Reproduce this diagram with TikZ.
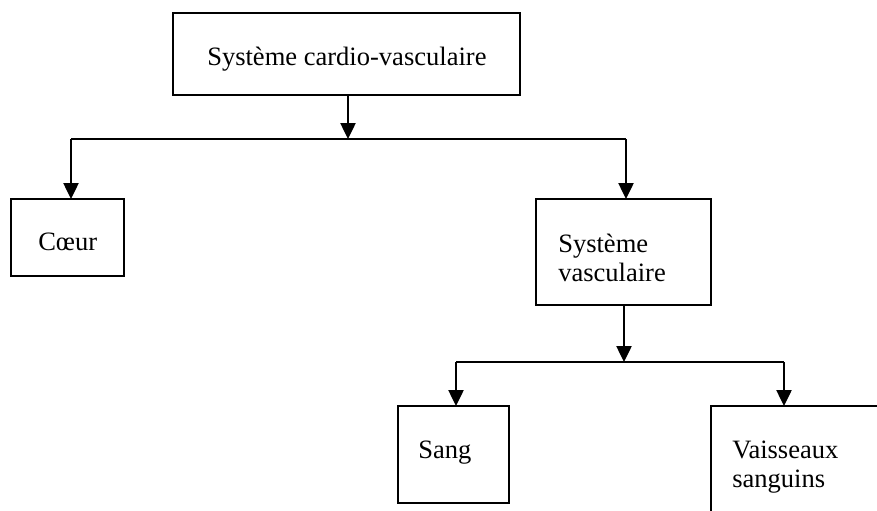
\documentclass[tikz,border=0pt]{standalone}
\usepackage{fontspec}
\setmainfont{Liberation Serif}
\usetikzlibrary{arrows.meta}

\begin{document}
\begin{tikzpicture}[x=0.75pt, y=-0.75pt,
            block/.style={rectangle, draw, line width=1pt, inner sep=0pt, outer sep=0pt, anchor=north west},
            label/.style={inner sep=0pt, anchor=base west, align=left, font=\fontsize{19.9pt}{21.75pt}\selectfont},
            arrow/.style={-{Triangle[length=12pt, width=11.5pt]}, line width=1pt},
            branch/.style={line width=1pt}]

        \useasboundingbox (0,0) rectangle (877,510);
        \clip (0,0) rectangle (877,510);

        % boxes
        \node[block, minimum width=260.25pt, minimum height=61.5pt] (sys) at (173,13) {};
        \node[block, minimum width=84.75pt, minimum height=57.75pt] (coeur) at (11,199) {};
        \node[block, minimum width=131.25pt, minimum height=79.5pt] (vasc) at (536,199) {};
        \node[block, minimum width=83.25pt, minimum height=72.75pt] (sang) at (398,406) {};
        \node[block, minimum width=150pt, minimum height=97.5pt] (vais) at (711,406) {};

        % texts (base of the last line)
        \node[label] (sysText) at (207,65) {Système cardio-vasculaire};
        \node[label] (coeurText) at (38,250) {Cœur};
        \node[label] (vascText) at (558,281) {Système\\vasculaire};
        \node[label] (sangText) at (418,458) {Sang};
        \node[label] (vaisText) at (732,487) {Vaisseaux\\sanguins};

        % branching points
        \coordinate (bar1) at (348,139);
        \coordinate (bar1L) at (71,139);
        \coordinate (bar1R) at (626,139);
        \coordinate (bar2) at (624,362);
        \coordinate (bar2L) at (456,362);
        \coordinate (bar2R) at (784,362);

        \draw[arrow] (sys.south -| bar1) -- (bar1);
        \draw[branch] (bar1L) -- (bar1R);
        \draw[arrow] (bar1L) -- (bar1L |- coeur.north);
        \draw[arrow] (bar1R) -- (bar1R |- vasc.north);

        \draw[arrow] (vasc.south -| bar2) -- (bar2);
        \draw[branch] (bar2L) -- (bar2R);
        \draw[arrow] (bar2L) -- (bar2L |- sang.north);
        \draw[arrow] (bar2R) -- (bar2R |- vais.north);
    \end{tikzpicture}
\end{document}
